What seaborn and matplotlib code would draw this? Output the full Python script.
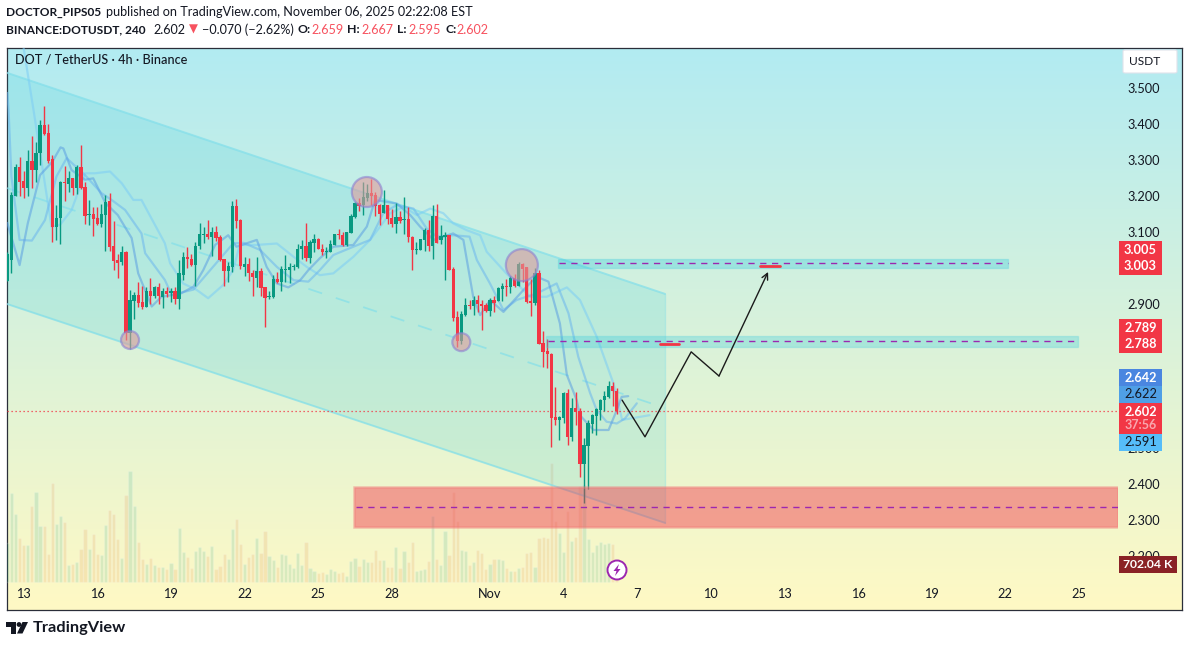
import numpy as np
import pandas as pd
import matplotlib
matplotlib.use("Agg")
import matplotlib.pyplot as plt
from matplotlib.colors import LinearSegmentedColormap
from matplotlib.patches import Rectangle, FancyBboxPatch, Polygon, Ellipse
import seaborn as sns

# candles
opens = [2.965,3.022,3.200,3.281,3.242,3.222,3.297,3.272,3.320,3.397,3.375,3.303,3.114,3.139,3.239,3.233,3.250,3.222,3.281,3.225,
         3.147,3.150,3.139,3.122,3.147,3.186,3.061,3.022,3.017,3.045,2.820,2.908,2.925,2.906,2.892,2.936,2.922,2.947,2.920,2.936,
         2.930,2.936,2.914,2.980,3.030,3.025,3.008,3.061,3.092,3.094,3.086,3.100,3.086,3.025,2.991,3.003,3.172,3.133,3.003,3.011,
         2.986,2.972,2.991,2.947,2.919,2.919,2.969,2.961,2.994,2.994,3.003,3.003,3.053,3.061,3.028,3.069,3.080,3.053,3.044,3.044,
         3.064,3.094,3.091,3.064,3.097,3.141,3.180,3.175,3.194,3.208,3.203,3.175,3.153,3.175,3.139,3.122,3.141,3.133,3.136,3.086,
         3.050,3.050,3.078,3.105,3.061,3.144,3.078,3.086,3.091,2.997,2.864,2.797,2.869,2.897,2.894,2.911,2.900,2.897,2.880,2.911,
         2.908,2.941,2.950,2.947,2.972,2.950,3.011,3.003,2.908,2.903,2.986,2.791,2.769,2.761,2.586,2.578,2.583,2.653,2.530,2.611,
         2.603,2.455,2.505,2.566,2.589,2.605,2.633,2.641,2.672,2.659]
highs = [3.045,3.212,3.289,3.308,3.270,3.328,3.367,3.350,3.411,3.450,3.400,3.314,3.175,3.242,3.283,3.269,3.250,3.286,3.342,3.239,
         3.189,3.169,3.169,3.178,3.203,3.208,3.131,3.039,3.061,3.047,2.939,2.933,2.961,2.950,2.947,2.972,2.950,2.958,2.945,2.947,
         2.944,2.947,3.022,3.044,3.058,3.039,3.072,3.125,3.114,3.133,3.114,3.116,3.092,3.025,3.016,3.186,3.191,3.136,3.030,3.028,
         2.994,3.030,3.000,2.947,2.936,2.980,2.989,3.005,3.036,3.014,3.011,3.066,3.078,3.125,3.078,3.094,3.083,3.066,3.058,3.078,
         3.094,3.108,3.100,3.100,3.150,3.183,3.194,3.239,3.233,3.247,3.211,3.178,3.216,3.175,3.164,3.180,3.158,3.197,3.169,3.089,
         3.072,3.080,3.111,3.133,3.175,3.178,3.119,3.100,3.091,3.003,2.880,2.880,2.916,2.911,2.922,2.925,2.911,2.903,2.916,2.922,
         2.947,2.958,2.969,2.978,2.983,3.016,3.014,3.003,2.969,3.000,2.994,2.825,2.803,2.764,2.669,2.589,2.655,2.664,2.639,2.655,
         2.611,2.528,2.578,2.594,2.611,2.636,2.658,2.686,2.683,2.667]
lows = [2.965,2.987,3.200,3.200,3.195,3.200,3.222,3.239,3.286,3.370,3.292,3.072,3.078,3.067,3.186,3.211,3.203,3.206,3.220,3.122,
        3.120,3.089,3.120,3.114,3.047,3.047,2.995,2.972,3.008,2.800,2.774,2.858,2.892,2.886,2.892,2.900,2.917,2.900,2.889,2.919,
        2.905,2.900,2.886,2.966,3.000,3.005,2.950,3.053,3.069,3.080,3.033,3.075,3.019,2.950,2.961,2.989,3.111,2.997,2.978,2.964,
        2.922,2.947,2.922,2.836,2.914,2.916,2.958,2.936,2.961,2.958,2.994,3.000,3.025,3.019,3.014,3.044,3.053,3.036,3.028,3.044,
        3.064,3.080,3.061,3.061,3.097,3.139,3.158,3.147,3.186,3.175,3.144,3.119,3.153,3.122,3.114,3.097,3.125,3.094,3.072,2.994,
        3.039,3.050,3.047,3.047,3.025,3.069,3.066,2.966,2.994,2.853,2.780,2.789,2.866,2.886,2.869,2.878,2.828,2.878,2.866,2.878,
        2.908,2.908,2.922,2.930,2.947,2.950,2.961,2.903,2.866,2.897,2.789,2.725,2.722,2.503,2.564,2.522,2.569,2.508,2.519,2.564,
        2.419,2.347,2.386,2.541,2.536,2.578,2.603,2.639,2.616,2.595]
closes = [3.039,3.203,3.281,3.239,3.222,3.297,3.272,3.320,3.397,3.372,3.297,3.114,3.139,3.239,3.236,3.250,3.222,3.281,3.222,3.145,
          3.150,3.136,3.122,3.150,3.183,3.058,3.019,3.014,3.045,2.820,2.911,2.925,2.903,2.892,2.936,2.922,2.947,2.922,2.936,2.929,
          2.936,2.914,2.986,3.030,3.025,3.008,3.061,3.094,3.094,3.086,3.100,3.083,3.022,2.991,3.005,3.172,3.130,3.005,3.011,2.986,
          2.975,2.991,2.944,2.916,2.922,2.969,2.961,2.997,2.997,3.003,3.005,3.053,3.061,3.028,3.072,3.080,3.053,3.044,3.047,3.066,
          3.094,3.091,3.064,3.100,3.144,3.180,3.172,3.197,3.208,3.200,3.172,3.150,3.175,3.136,3.122,3.141,3.130,3.136,3.086,3.050,
          3.053,3.080,3.105,3.061,3.144,3.069,3.089,3.091,2.994,2.861,2.797,2.872,2.897,2.894,2.911,2.900,2.894,2.880,2.911,2.903,
          2.944,2.950,2.947,2.972,2.950,3.011,2.997,2.905,2.903,2.986,2.789,2.766,2.761,2.583,2.578,2.586,2.653,2.530,2.611,2.600,
          2.455,2.508,2.569,2.591,2.608,2.633,2.644,2.672,2.658,2.602]
# volume in thousands
volumes = [1534,3471,2652,1716,1443,1443,2964,3510,2184,2184,1092,3861,2262,2574,2340,663,702,780,1287,2067,
           1287,1872,1092,1053,2223,2808,2652,1677,936,3393,4329,2964,1560,897,702,936,663,585,585,507,
           741,507,2106,1170,975,546,1209,1365,1209,1014,1404,507,624,1092,897,2067,2457,1482,702,975,
           1092,1716,1131,1989,1014,858,585,1092,1053,702,546,1131,663,1560,546,429,351,390,312,507,
           429,351,390,234,819,936,624,897,780,780,1248,858,858,585,585,1365,546,1209,780,1560,
           429,468,507,819,2574,897,663,1989,1053,3510,2379,1248,1209,663,780,1248,1131,507,702,897,
           897,858,546,429,429,546,585,1131,1170,585,1716,1755,1716,4641,2379,1911,1170,2769,1599,1755,
           3744,3783,1677,1170,1443,1560,1482,1521,1482,702.04]

# the three moving lines (bar number, price)
fast_bars = [0,3,5,8,11,13,13.7,15.7,19,21,24,27,30.4,32,35.3,37.7,42.2,45.5,47.9,50.8,54,56,61,63.4,65.9,68.7,71.6,73.6,76.4,79.7,
             84.6,87.9,89.9,95.2,98.5,100.9,104.2,109,111.5,113.9,115.6,118,121.3,126.2,129.4,132.3,135.1,136.8,139.2,140,143.3,147,149,150.2,151.8]
fast_line = [3.125,3.008,3.124,3.258,3.295,3.335,3.332,3.272,3.245,3.249,3.180,3.147,3.083,2.985,2.893,2.920,2.928,2.948,2.994,3.064,3.091,3.059,3.078,3.003,2.957,2.946,2.966,2.994,3.027,3.059,
             3.064,3.115,3.189,3.179,3.147,3.115,3.078,3.096,3.078,2.920,2.869,2.911,2.878,2.939,2.976,2.962,2.846,2.703,2.633,2.591,2.550,2.550,2.605,2.642,2.644]
mid_bars = [0,0.3,1,3,6,9.2,12,14.5,19,23,25.5,28.8,32.8,33.7,38.5,40.2,45.5,49.6,55.2,57.7,61.8,65.9,70,73.6,76.4,79.7,84.6,88.7,91.9,95.2,99.3,
            102.5,105,109,113,114.8,118,121.3,124.5,129.4,134.3,137.2,139.6,142.5,144.1,146.5,149,151,153.9]
mid_line = [3.486,3.439,3.254,3.078,3.076,3.133,3.254,3.305,3.258,3.208,3.189,3.161,3.096,3.041,2.967,2.925,2.940,2.994,3.068,3.070,3.050,3.003,2.966,2.962,2.994,3.036,3.059,3.078,3.152,3.175,3.165,
            3.110,3.087,3.091,3.087,3.022,2.957,2.883,2.911,2.929,2.957,2.874,2.753,2.652,2.605,2.573,2.568,2.582,2.624]
slow_bars = [4,6.4,10.8,12.9,15.7,19,21.4,25.1,28,30.8,32.8,38.5,39.8,43,46.3,49.1,52.8,55.2,56.8,60.9,65.9,70,73.2,76.4,79.7,84.6,88.7,93.6,96.9,100.1,
             103.4,106.6,109,112.3,115.6,117.2,122,127.8,131.9,136.8,140,144.1,148.2,149.4,150.3,152.4,157]
slow_line = [3.610,3.439,3.115,3.120,3.161,3.263,3.263,3.268,3.235,3.189,3.189,3.069,3.013,2.957,2.939,2.916,2.953,2.994,3.064,3.064,3.068,3.031,3.003,2.980,2.985,3.031,3.078,3.152,3.170,3.147,
             3.165,3.152,3.124,3.105,3.091,3.045,2.985,2.920,2.920,2.946,2.911,2.809,2.679,2.624,2.578,2.582,2.591]

# drawings on the chart
channel_bars = [-0.08, 160.8]
channel_top = [3.542, 2.928]
channel_mid = [3.222, 2.611]
channel_low = [2.900, 2.292]
path_bars = [150.3, 155.9, 167.2, 174, 186]
path_prices = [2.633, 2.531, 2.767, 2.700, 2.989]
circle_bars = [87.9, 125.8, 30, 111]
circle_prices = [3.211, 3.008, 2.800, 2.794]
circle_sizes = [30, 32, 18, 18]

# scale labels that the coloured boxes hide in the reference are left out
price_ticks = [3.5, 3.4, 3.3, 3.2, 3.1, 2.9, 2.5, 2.4, 2.3, 2.2]
date_bars = [4, 22, 40, 58, 76, 94, 118, 136, 154, 172, 190, 208, 226, 244, 262]
date_labels = ["13", "16", "19", "22", "25", "28", "Nov", "4", "7", "10", "13", "16", "19", "22", "25"]

label_texts = ["3.005", "3.003", "2.789", "2.788", "2.642", "2.622", "2.602", "2.591"]
label_tops = [241, 258, 319, 336, 369, 386, 403, 434]
label_fills = ["#f23645", "#f23645", "#f23645", "#f23645", "#4a86e0", "#4f9fe6", "#f23645", "#56bdf9"]
label_inks = ["white", "white", "white", "white", "white", "#131722", "white", "#131722"]

GREEN = "#089981"
RED = "#f23645"
PURPLE = "#9c27b0"
W, H = 1189, 647
FONT = "Lato"


def fx(px):
    return px / W


def fy(py):
    return 1 - py / H


def put(px, py, text, size=9.1, color="#131722", weight="normal", ha="left", family=FONT):
    fig.text(fx(px), fy(py), text, fontsize=size, color=color, fontweight=weight,
             ha=ha, va="center", family=family, zorder=31)


def box(x0, y0, x1, y1, color, z=30):
    fig.add_artist(Rectangle((fx(x0), fy(y1)), (x1 - x0) / W, (y1 - y0) / H, facecolor=color,
                             edgecolor="none", transform=fig.transFigure, zorder=z))


sns.set_theme(style="white")
plt.rcParams["font.family"] = [FONT, "DejaVu Sans"]

fig = plt.figure(figsize=(W / 100, H / 100), dpi=100, facecolor="white")
panel = [fx(7), fy(610), (1118 - 7) / W, (610 - 48) / H]
xlim = (-0.08, 271.55)
ylim = (2.05, 3.611)

# gradient behind everything, runs under the price scale too
bg = fig.add_axes([fx(7), fy(610), (1182 - 7) / W, (610 - 48) / H], zorder=0)
cmap = LinearSegmentedColormap.from_list("tv", ["#b2ebf2", "#fff9c4"])
bg.imshow(np.linspace(0, 1, 256).reshape(-1, 1), aspect="auto", cmap=cmap)
bg.set_xticks([])
bg.set_yticks([])
for s in bg.spines.values():
    s.set_color("#2a2e39")
    s.set_linewidth(0.9)

bars = np.arange(len(closes))
side = np.where(np.array(closes) >= np.array(opens), "up", "down")
vol_df = pd.DataFrame({"bar": bars, "volume": volumes, "side": side})

ax_vol = fig.add_axes(panel, zorder=1)
ax_vol.patch.set_alpha(0)
sns.barplot(data=vol_df, x="bar", y="volume", hue="side", native_scale=True, dodge=False,
            width=0.78, saturation=1, alpha=0.14,
            palette={"up": GREEN, "down": "#d9722c"}, legend=False, ax=ax_vol)
ax_vol.set_xlim(xlim)
ax_vol.set_ylim(-1092, 20826)
ax_vol.axis("off")

ax = fig.add_axes(panel, zorder=2)
ax.patch.set_alpha(0)

# channel
ax.fill_between(channel_bars, channel_low, channel_top, color="#26c6da", alpha=0.16, lw=0, zorder=1)
ax.plot(channel_bars, channel_top, color="#80deea", lw=1.4, alpha=0.7, zorder=1.5)
ax.plot(channel_bars, channel_low, color="#80deea", lw=1.4, alpha=0.7, zorder=1.5)
ax.plot(channel_bars, channel_mid, color="#80deea", lw=1.3, alpha=0.65, dashes=(8, 8), zorder=1.5)
ax.plot([channel_bars[1]] * 2, [channel_low[1], channel_top[1]], color="#80deea", lw=1.0, alpha=0.35, zorder=1.5)

# moving lines
for xs, ys, col in [(slow_bars, slow_line, "#7dcdf5"), (mid_bars, mid_line, "#6cb6ee"), (fast_bars, fast_line, "#5c9fe2")]:
    sns.lineplot(x=xs, y=ys, sort=False, estimator=None, color=col, lw=1.6, alpha=0.55, ax=ax, zorder=2)

# candles
colors = [GREEN if c >= o else RED for o, c in zip(opens, closes)]
ax.vlines(bars, lows, highs, colors=colors, lw=1.0, zorder=3)
ax.bar(bars, np.abs(np.array(closes) - np.array(opens)), bottom=np.minimum(opens, closes), width=0.8,
       color=colors, linewidth=0, zorder=3)

# last price line
ax.axhline(closes[-1], color=RED, lw=0.9, ls=(0, (1, 2.2)), zorder=2.5)

# zones
ax.add_patch(Rectangle((134.7, 3.000), 110, 0.025, facecolor="#26c6da", alpha=0.3,
                       edgecolor="#4dd0e1", lw=1, zorder=4))
ax.add_patch(Rectangle((131.7, 2.781), 130.1, 0.030, facecolor="#26c6da", alpha=0.27,
                       edgecolor="#4dd0e1", lw=1, zorder=4))
ax.add_patch(Rectangle((84.8, 2.281), 186.7, 0.111, facecolor="#f2384a", alpha=0.46,
                       edgecolor="#f27a7a", lw=1.8, zorder=4))
ax.plot([134.9, 244.6], [3.0125, 3.0125], color=PURPLE, lw=1, dashes=(4.5, 4), zorder=5)
ax.plot([132.2, 261.8], [2.796, 2.796], color=PURPLE, lw=1, dashes=(4.5, 4), zorder=5)
ax.plot([85.2, 271.5], [2.335, 2.335], color=PURPLE, lw=1, dashes=(4.5, 4), zorder=5)
ax.plot([159.6, 164.2], [2.79, 2.79], color=RED, lw=2, zorder=5)
ax.plot([184, 189], [3.005, 3.005], color=RED, lw=2, zorder=5)

# circles
ax.scatter(circle_bars, circle_prices, s=(np.array(circle_sizes) * 0.72) ** 2, facecolor=(0.88, 0.6, 0.6, 0.58),
           edgecolor=(0.55, 0.5, 0.82, 0.6), linewidth=1.6, zorder=5)

# projected path
ax.plot(path_bars[:-1], path_prices[:-1], color="#1b1b1b", lw=1.0, zorder=6)
ax.annotate("", xy=(path_bars[-1], path_prices[-1]), xytext=(path_bars[-2], path_prices[-2]),
            arrowprops=dict(arrowstyle="->", color="#1b1b1b", lw=1.0, shrinkA=0, shrinkB=0, mutation_scale=11), zorder=6)

ax.set_xlim(xlim)
ax.set_ylim(ylim)
ax.set_xlabel("")
ax.set_ylabel("")
ax.yaxis.tick_right()
ax.set_yticks(price_ticks)
ax.set_yticklabels([f"{p:.3f}" for p in price_ticks], fontsize=9.2, color="#131722")
ax.set_xticks(date_bars)
ax.set_xticklabels(date_labels, fontsize=9.2, color="#131722")
ax.tick_params(axis="y", length=0, pad=6.5)
ax.tick_params(axis="x", length=0, pad=-16)
for s in ax.spines.values():
    s.set_visible(False)

# header
put(6, 12.5, "DOCTOR_PIPS05", 8.6, weight="bold")
put(106, 12.5, "published on TradingView.com, November 06, 2025 02:22:08 EST")
put(6, 29.5, "BINANCE:DOTUSDT, 240", 8.6, weight="bold")
put(153, 29.5, "2.602")
put(189, 29.5, "▼", 8.4, color="#f7525f", family="DejaVu Sans")
put(202, 29.5, "−0.070 (−2.62%)")
for px, t in [(297, "O:"), (347, "H:"), (397, "L:"), (445, "C:")]:
    put(px, 29.5, t, 8.8, weight="bold")
for px, t in [(311, "2.659"), (361, "2.667"), (408, "2.595"), (456, "2.602")]:
    put(px, 29.5, t, color="#f7525f")
put(15, 60, "DOT / TetherUS · 4h · Binance", 9.1, weight="medium")

# price scale boxes
fig.add_artist(FancyBboxPatch((fx(1123), fy(73)), 54 / W, 23 / H, boxstyle="round,pad=0,rounding_size=0.002",
                              facecolor="white", edgecolor="#e0e3eb", lw=0.8, transform=fig.transFigure, zorder=30))
put(1145, 61.5, "USDT", 8.6, ha="center")
for text, top, fill, ink in zip(label_texts, label_tops, label_fills, label_inks):
    bottom = top + 31 if text == "2.602" else top + 17
    box(1119, top, 1162, bottom, fill)
    put(1140.5, top + 8.5, text, 9.2, color=ink, weight="bold" if ink == "white" else "normal", ha="center")
put(1140.5, 425, "37:56", 9, color="#f9a6ae", weight="bold", ha="center")
box(1119, 556, 1177, 573, "#8a2226")
put(1148, 564.5, "702.04 K", 8.7, color="white", weight="bold", ha="center")

# bolt badge
fig.add_artist(Ellipse((fx(617), fy(570)), 19 / W, 19 / H, facecolor="white",
                       edgecolor=PURPLE, lw=1.4, transform=fig.transFigure, zorder=30))
bolt = [(619, 564), (613.5, 571), (616.5, 571), (615, 576), (620.5, 569), (617.5, 569)]
fig.add_artist(Polygon([(fx(a), fy(b)) for a, b in bolt], facecolor=PURPLE, edgecolor="none",
                       transform=fig.transFigure, zorder=31))

# logo
box(6, 622, 16, 627, "#131722")
box(11, 622, 16, 633.5, "#131722")
fig.add_artist(Ellipse((fx(19), fy(624.5)), 4.8 / W, 4.8 / H, facecolor="#131722", edgecolor="none",
                       transform=fig.transFigure, zorder=30))
fig.add_artist(Polygon([(fx(22.5), fy(622)), (fx(28), fy(622)), (fx(22.5), fy(633.5)), (fx(17), fy(633.5))],
                       facecolor="#131722", edgecolor="none", transform=fig.transFigure, zorder=30))
put(33, 628, "TradingView", 11.8, weight="bold")

fig.savefig("out.png", dpi=100)
